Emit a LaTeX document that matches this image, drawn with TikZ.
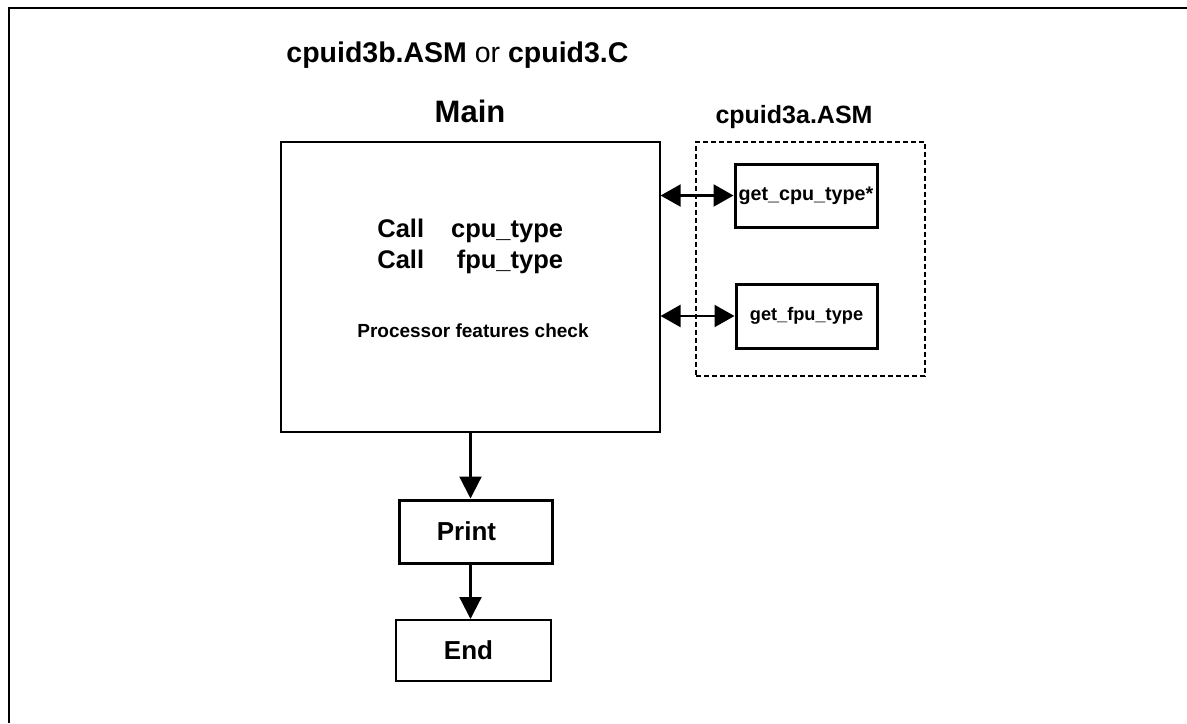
\documentclass[tikz,border=0pt]{standalone}
\usepackage{fontspec}
\setmainfont{Liberation Sans}
\usetikzlibrary{arrows.meta,positioning}
\tikzset{
    frame/.style={
    line width=1.2pt
    },
    module/.style={
    rectangle,draw=black,line width=0.6pt,inner sep=0pt
    },
    dmodule/.style={
    rectangle,draw=black,line width=0.7pt,dash pattern=on 2.5pt off 1.5pt,inner sep=0pt
    },
    routine/.style={
    rectangle,draw=black,line width=1.5pt,inner sep=0pt,font=\bfseries\fontsize{9.5}{11}\selectfont
    },
    flowbox/.style={
    rectangle,draw=black,inner sep=0pt,font=\bfseries\fontsize{13}{15}\selectfont
    },
    flow/.style={
    -{Triangle[length=11pt,width=11pt]},line width=1.1pt
    },
    callret/.style={
    {Triangle[length=10pt,width=11pt]}-{Triangle[length=10pt,width=11pt]},line width=1.1pt
    },
}

\begin{document}
\begin{tikzpicture}[x=0.5pt, y=-0.5pt]
   \useasboundingbox (0,0) rectangle (1187,723);
   % outer frame, only top and left edges show
   \coordinate (fb) at (9,723);
   \coordinate (fc) at (9,8);
   \coordinate (fr) at (1187,8);
   \draw[frame] (fb) -- (fc) -- (fr);

   \node[module, minimum width=189.5pt, minimum height=145pt] (main) at (470.5,287) {};
   \node[dmodule, minimum width=114.5pt, minimum height=117pt] (lib) at (810.5,259) {};
   \node[routine, font=\bfseries\fontsize{9.85}{11}\selectfont, minimum width=71pt, minimum height=31.5pt] (cpu) at (806,195.5) {get\_cpu\_type*};
   \node[routine, font=\bfseries\fontsize{9.1}{11}\selectfont, minimum width=70.5pt, minimum height=32pt] (fpu) at (806.5,316) {get\_fpu\_type};
   \node[flowbox, line width=1.5pt, minimum width=76.5pt, minimum height=31.5pt] (print) at (475.5,531.5) {Print\kern9pt};
   \node[flowbox, line width=1pt, minimum width=77.5pt, minimum height=30.5pt] (end) at (473.5,650.5) {End\kern5pt};

   % labels
   \node[anchor=base west, inner sep=0pt, font=\fontsize{14.25}{17}\selectfont] (title) at (286,62)
     {\textbf{cpuid3b.ASM} or \textbf{cpuid3.C}};
   \node[anchor=base, inner sep=0pt, font=\bfseries\fontsize{15.5}{18}\selectfont] (mainlbl) at (470,122) {Main};
   \node[anchor=base, inner sep=0pt, font=\bfseries\fontsize{12.5}{15}\selectfont] (liblbl) at (794,123) {cpuid3a.ASM};
   \node[anchor=base west, inner sep=0pt, font=\bfseries\fontsize{12.75}{15.5}\selectfont] (calls) at (377,237)
     {\begin{tabular}[t]{@{}l@{\hspace{13.5pt}}r@{}}Call & cpu\_type\\ Call & fpu\_type\end{tabular}};
   \node[anchor=base, inner sep=0pt, font=\bfseries\fontsize{9.5}{11}\selectfont] (check) at (473,337) {Processor features check};

  \draw[callret] (main.east |- cpu.west) -- (cpu.west);
  \draw[callret] (main.east |- fpu.west) -- (fpu.west);
  \draw[flow] (main.south) -- (main.south |- print.north);
  \draw[flow] (print.south -| main.south) -- (end.north -| main.south);
\end{tikzpicture}
\end{document}
